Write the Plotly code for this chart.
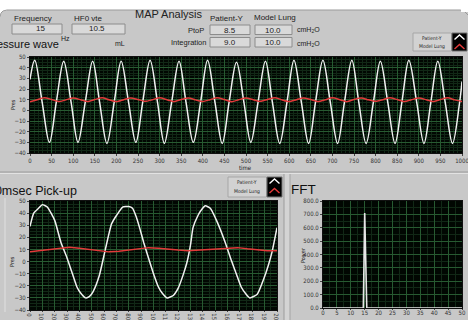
import plotly.graph_objects as go

W, H = 468, 320

# ---------------- data ----------------
top_time = [0, 11, 28, 45, 61, 78, 95, 111, 128, 145, 161, 178, 195, 211, 228, 245,
            261, 278, 295, 311, 328, 345, 361, 378, 395, 411, 428, 445, 461, 478, 495,
            511, 528, 545, 561, 578, 595, 611, 628, 645, 661, 678, 695, 712, 728, 745,
            761, 778, 795, 811, 828, 845, 861, 877, 895, 912, 928, 944, 961, 978, 994, 1000]
top_patient = [29, 47, 8, -30, 8, 46, 8, -30, 8, 46, 8, -31, 8, 46, 8, -30,
               8, 47, 8, -31, 8, 46, 8, -30, 8, 47, 8, -31, 8, 45, 8,
               -30, 8, 46, 8, -31, 8, 47, 8, -31, 8, 47, 8, -31, 8, 47,
               8, -31, 8, 46, 8, -31, 8, 47, 8, -31, 8, 46, 8, -31, 6, 27]

top_lung_time = [0, 17, 33, 50, 67, 83, 100, 117, 133, 150, 167, 183, 200, 217, 233, 250,
                 267, 283, 300, 317, 333, 350, 367, 383, 400, 417, 433, 450, 467, 483, 500,
                 517, 533, 550, 567, 583, 600, 617, 633, 650, 667, 683, 700, 717, 733, 750,
                 767, 783, 800, 817, 833, 850, 867, 883, 900, 917, 933, 950, 967, 983, 1000]
top_lung = [8, 10, 11.8, 10.2, 8.2, 9.8, 11.5, 10, 8.3, 10.1, 11.7, 9.9, 8.1, 10, 11.6, 10.2,
            8.4, 9.9, 11.8, 10, 8.2, 10.1, 11.5, 9.8, 8.3, 10, 11.7, 10.1, 8.1, 9.9, 11.6,
            10, 8.4, 10.2, 11.8, 9.9, 8.2, 10, 11.5, 10.1, 8.3, 9.8, 11.7, 10, 8.1, 10.2,
            11.6, 9.9, 8.4, 10, 11.8, 10.1, 8.2, 9.9, 11.5, 10, 8.3, 10.1, 11.7, 9.8, 8.2]

pick_time = [0, 3, 7, 10, 14, 20, 25, 30, 34, 38, 41, 45, 48, 51, 56, 61, 66, 70, 75, 80,
             83, 86, 89, 92, 95, 100, 104, 107, 111, 116, 120, 124, 127, 130, 132, 136,
             139, 142, 146, 151, 158, 163, 167, 171, 175, 178, 184, 189, 193, 196, 200]
pick_patient = [29, 40, 44, 47, 45, 34, 16, 3, -9, -21, -26, -30, -29, -25, -12, 10, 31, 38, 45, 45.5,
                44, 37, 27, 16, 6, -10, -21, -26, -30, -28, -22, -11, -1, 14, 28, 38,
                43, 46, 44, 34, 16, 1, -10, -21, -27, -30, -27, -15, -3, 8, 28]

pick_lung_time = [0, 8, 16, 24, 32, 40, 48, 56, 64, 72, 80, 88, 96, 104, 112, 120, 128,
                  136, 144, 152, 160, 168, 176, 184, 192, 200]
pick_lung = [8, 9, 10, 11, 11.8, 11, 10, 9, 8, 8.5, 9.5, 11, 11.5, 11, 10, 9.5, 9,
             9.5, 10.5, 11, 11.5, 11.5, 10.5, 9.5, 9, 9]

fft_freq = [0, 14.5, 14.75, 15.0, 15.25, 15.5, 15.75, 50]
fft_power = [0, 0, 350, 710, 470, 240, 0, 0]

top_xticks = list(range(0, 1001, 50))
wave_yticks = list(range(-40, 51, 10))
pick_xticks = list(range(0, 201, 10))
fft_xticks = list(range(0, 51, 5))
fft_yticks = [0, 100, 200, 300, 400, 500, 600, 700, 800]
fft_yticktext = ["0.0", "100.0", "200.0", "300.0", "400.0", "500.0", "600.0", "700.0", "800.0"]

freq_value = "15"
vte_value = "10.5"
ptop_patient = "8.5"
ptop_model = "10.0"
integ_patient = "9.0"
integ_model = "10.0"

# ---------------- helpers ----------------
def X(p):
    return p / W

def Y(p):
    return 1 - p / H

BG = "#c8c8c8"
PLOTBG = "#010702"
MAJ = "#275a31"
MIN = "#112816"
TICKFONT = dict(family="Liberation Sans Narrow, DejaVu Sans Condensed, Liberation Sans, sans-serif",
                size=6, color="#333333")
LABFONT = "Liberation Sans, Arial, sans-serif"

fig = go.Figure()

fig.add_trace(go.Scatter(x=top_time, y=top_patient, mode="lines", xaxis="x", yaxis="y",
                         line=dict(color="#f2f2f2", width=1.5, shape="spline", smoothing=1.0),
                         showlegend=False, hoverinfo="skip"))
fig.add_trace(go.Scatter(x=top_lung_time, y=top_lung, mode="lines", xaxis="x", yaxis="y",
                         line=dict(color="#e23a3a", width=1.5, shape="spline", smoothing=0.6),
                         showlegend=False, hoverinfo="skip"))
fig.add_trace(go.Scatter(x=pick_time, y=pick_patient, mode="lines", xaxis="x2", yaxis="y2",
                         line=dict(color="#f2f2f2", width=1.5, shape="spline", smoothing=0.5),
                         showlegend=False, hoverinfo="skip"))
fig.add_trace(go.Scatter(x=pick_lung_time, y=pick_lung, mode="lines", xaxis="x2", yaxis="y2",
                         line=dict(color="#e23a3a", width=1.5),
                         showlegend=False, hoverinfo="skip"))
fig.add_trace(go.Scatter(x=fft_freq, y=fft_power, mode="lines", xaxis="x3", yaxis="y3",
                         line=dict(color="#e6e6e6", width=1.6),
                         showlegend=False, hoverinfo="skip"))

def axis(domain, rng, tickvals, minor_dtick, anchor, ticktext=None, ticklen=2, standoff=0):
    d = dict(domain=domain, range=rng, tickvals=tickvals, anchor=anchor,
             showline=True, linecolor="#101010", linewidth=1, mirror=True,
             ticks="outside", ticklen=ticklen, tickcolor="#444444", tickfont=TICKFONT,
             ticklabeloverflow="allow", ticklabelstandoff=standoff,
             showgrid=True, gridcolor=MAJ, gridwidth=1, zeroline=False,
             fixedrange=True, automargin=False,
             minor=dict(dtick=minor_dtick, showgrid=True, gridcolor=MIN, gridwidth=1, ticks=""))
    if ticktext is not None:
        d["ticktext"] = ticktext
    return d

layout = dict(
    width=W, height=H, margin=dict(l=0, r=0, t=0, b=0),
    paper_bgcolor=BG, plot_bgcolor=PLOTBG, showlegend=False,
    xaxis=axis([X(30), X(462)], [0, 1000], top_xticks, 10, "y"),
    yaxis=axis([Y(153), Y(57)], [-40, 50], wave_yticks, 2.5, "x"),
    xaxis2=axis([X(30), X(277)], [0, 200], pick_xticks, 5, "y2", ticklen=1, standoff=-3),
    yaxis2=axis([Y(310), Y(201)], [-40, 50], wave_yticks, 2.5, "x2"),
    xaxis3=axis([X(323), X(462)], [0, 50], fft_xticks, 2.5, "y3", ticklen=1, standoff=-2),
    yaxis3=axis([Y(308), Y(201)], [0, 800], fft_yticks, 50, "x3", fft_yticktext),
)
fig.update_layout(**layout)

shapes = []

def rect(x0, y0, x1, y1, fill, line="rgba(0,0,0,0)", lw=1):
    shapes.append(dict(type="rect", xref="paper", yref="paper",
                       x0=X(x0), x1=X(x1), y0=Y(y1), y1=Y(y0),
                       fillcolor=fill, line=dict(color=line, width=lw)))

def hline(x0, x1, y, color, lw=1):
    shapes.append(dict(type="line", xref="paper", yref="paper",
                       x0=X(x0), x1=X(x1), y0=Y(y), y1=Y(y), line=dict(color=color, width=lw)))

def vline(x, y0, y1, color, lw=1):
    shapes.append(dict(type="line", xref="paper", yref="paper",
                       x0=X(x), x1=X(x), y0=Y(y0), y1=Y(y1), line=dict(color=color, width=lw)))

def path(pts, color, lw=1.4, fill=None):
    d = "M " + " L ".join(f"{X(a):.5f},{Y(b):.5f}" for a, b in pts)
    if fill:
        d += " Z"
    shapes.append(dict(type="path", xref="paper", yref="paper", path=d,
                       line=dict(color=color, width=lw),
                       fillcolor=fill if fill else "rgba(0,0,0,0)"))

# white strip on top and rounded corner
rect(0, 0, 468, 10, "#ffffff")
path([(0, 10), (7, 10), (3, 11), (1, 13), (0, 17)], "#ffffff", 0.5, fill="#ffffff")
path([(0, 17), (1, 13), (3, 11), (7, 10), (460, 10)], "#9a9a9a", 1)
path([(460, 10), (464, 11), (466, 13), (468, 15)], "#9a9a9a", 1)
rect(461, 0, 468, 12, "#ffffff")

# panel separators
hline(0, 468, 172, "#9c9c9c", 1)
hline(0, 468, 173.5, "#e2e2e2", 1)
rect(284, 174, 290, 320, "#d4d4d4")
vline(284, 174, 320, "#9c9c9c", 1)
vline(290, 174, 320, "#a4a4a4", 1)
vline(5, 198, 312, "#e0e0e0", 1)

# input boxes
BOXFILL = "#d9d9d9"
BOXLINE = "#8c8c8c"
rect(12, 24, 62, 34, BOXFILL, BOXLINE)
rect(72, 24, 125, 34, BOXFILL, BOXLINE)
rect(210, 25, 250, 34.5, BOXFILL, BOXLINE)
rect(210, 37.5, 250, 47, BOXFILL, BOXLINE)
rect(255, 25, 292, 34.5, BOXFILL, BOXLINE)
rect(255, 37.5, 292, 47, BOXFILL, BOXLINE)

# legends
rect(413, 33, 451.5, 51, "#d2d2d2", "#a6a6a6")
rect(452, 33, 467, 51, "#000000", "#707070")
path([(454.5, 39.5), (459.5, 35), (464.5, 39.5)], "#ffffff", 1.4)
path([(454.5, 49), (459.5, 44.5), (464.5, 49)], "#e23a3a", 1.4)

rect(228, 177, 266.5, 197, "#d2d2d2", "#a6a6a6")
rect(267, 177, 282, 197, "#000000", "#707070")
path([(269.5, 183.5), (274.5, 179), (279.5, 183.5)], "#ffffff", 1.4)
path([(269.5, 193), (274.5, 188.5), (279.5, 193)], "#e23a3a", 1.4)

fig.update_layout(shapes=shapes)

ann = []

def text(t, x, y, size, anchor="center", color="#222222", angle=0, family=LABFONT):
    ann.append(dict(text=t, x=X(x), y=Y(y), xref="paper", yref="paper",
                    xanchor=anchor, yanchor="middle", showarrow=False, textangle=angle,
                    font=dict(size=size, color=color, family=family)))

text("MAP Analysis", 168.5, 13.5, 11)
text("Frequency", 12, 19, 8, "left")
text("HF0 vte", 72, 18, 8, "left")
text(freq_value, 40, 29, 8)
text(vte_value, 97, 29, 8)
text("Hz", 59, 38.5, 7, "left")
text("mL", 113, 43.5, 7, "left")
text("Pressure wave", 61, 44, 11, "right", "#111111")
text("PtoP", 206, 30, 7.5, "right")
text("Integration", 207.5, 42.5, 7.5, "right")
text("Patient-Y", 227, 18.5, 8)
text("Model Lung", 275, 17.5, 8)
text(ptop_patient, 230, 30, 8)
text(integ_patient, 230, 42.5, 8)
text(ptop_model, 273, 30, 8)
text(integ_model, 273, 42.5, 8)
text("cmH<sub>2</sub>O", 295, 30, 7, "left")
text("cmH<sub>2</sub>O", 295, 43.5, 7, "left")
text("time", 245, 167, 6, family=TICKFONT["family"])
text("Pres", 13, 105, 5.5, angle=-90, family=TICKFONT["family"])
text("Pres", 12, 262, 5.5, angle=-90, family=TICKFONT["family"])
text("Power", 303, 255, 5.5, angle=-90, family=TICKFONT["family"])
text("200msec Pick-up", 79, 190.5, 12.5, "right", "#111111")
text("FFT", 289, 189.5, 13.5, "left", "#111111")
text("Patient-Y", 432, 37.5, 5, family=TICKFONT["family"])
text("Model Lung", 432, 47, 5, family=TICKFONT["family"])
text("Patient-Y", 247, 181.5, 5, family=TICKFONT["family"])
text("Model Lung", 247, 191.5, 5, family=TICKFONT["family"])

fig.update_layout(annotations=ann)

fig.write_html("out.html")
